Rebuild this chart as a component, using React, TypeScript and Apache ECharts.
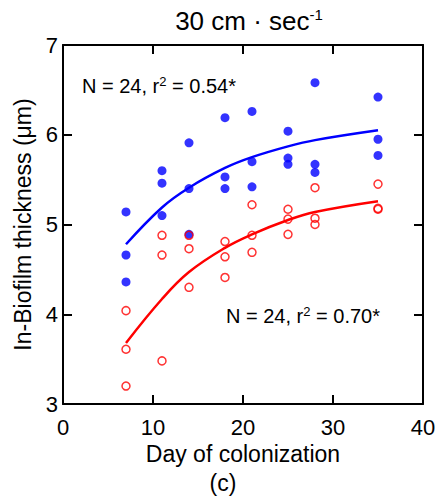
import React, { useEffect, useRef } from "react";
import * as echarts from "echarts";

const FONT = '"Liberation Sans", Arial, Helvetica, sans-serif';

// Sampling days (day of colonization)
const days = [7, 11, 14, 18, 21, 25, 28, 35];

// Replicate measurements per day, two groups
const blueValues = [
  [5.14, 4.66, 4.36],
  [5.6, 5.46, 5.1],
  [5.91, 5.4, 4.89],
  [6.19, 5.53, 5.4],
  [6.26, 5.7, 5.42],
  [6.04, 5.74, 5.67],
  [6.58, 5.67, 5.58],
  [6.42, 5.95, 5.77],
];
const redValues = [
  [4.04, 3.61, 3.2],
  [4.88, 4.66, 3.48],
  [4.88, 4.73, 4.3],
  [4.81, 4.64, 4.41],
  [5.22, 4.88, 4.69],
  [5.17, 5.06, 4.89],
  [5.41, 5.07, 5.0],
  [5.45, 5.18, 5.17],
];

// Fitted growth curves evaluated at the sampling days
const blueFit = [4.78, 5.19, 5.41, 5.63, 5.75, 5.87, 5.94, 6.05];
const redFit = [3.68, 4.17, 4.47, 4.74, 4.89, 5.05, 5.14, 5.26];

const xTicks = { min: 0, max: 40, interval: 10 };
const yTicks = { min: 3, max: 7, interval: 1 };

const BLUE = "#0000ff";
const RED = "#ff0000";

const toPoints = (vals: number[][]) =>
  days.flatMap((d, i) => vals[i].map((v) => [d, v]));
const toLine = (vals: number[]) => days.map((d, i) => [d, vals[i]]);

const axisCommon = {
  type: "value" as const,
  axisLine: { show: true, onZero: false, lineStyle: { color: "#000", width: 2 } },
  axisTick: { show: true, inside: true, length: 9, lineStyle: { color: "#000", width: 2 } },
  splitLine: { show: false },
};

export default function App() {
  const ref = useRef<HTMLDivElement>(null);

  useEffect(() => {
    if (!ref.current) return;
    const chart = echarts.init(ref.current, undefined, { renderer: "svg" });
    chart.setOption({
      animation: false,
      backgroundColor: "#fff",
      grid: { left: 63, right: 16, top: 45, bottom: 96 },
      xAxis: [
        {
          ...axisCommon,
          ...xTicks,
          position: "bottom",
          name: "Day of colonization",
          nameLocation: "middle",
          nameGap: 37,
          nameTextStyle: { fontSize: 23, color: "#000", fontFamily: FONT },
          axisLabel: { fontSize: 22, color: "#000", margin: 12, fontFamily: FONT },
        },
        {
          ...axisCommon,
          ...xTicks,
          position: "top",
          axisLabel: { show: false },
        },
      ],
      yAxis: [
        {
          ...axisCommon,
          ...yTicks,
          position: "left",
          name: "In-Biofilm thickness (μm)",
          nameLocation: "middle",
          nameGap: 20,
          nameTextStyle: { fontSize: 23, color: "#000", fontFamily: FONT },
          axisLabel: {
            fontSize: 22,
            color: "#000",
            margin: 5,
            fontFamily: FONT,
            padding: [6, 0, 0, 0],
          },
        },
        {
          ...axisCommon,
          ...yTicks,
          position: "right",
          axisLabel: { show: false },
        },
      ],
      series: [
        {
          type: "line",
          data: toLine(blueFit),
          smooth: 0.4,
          showSymbol: false,
          symbol: "none",
          lineStyle: { color: BLUE, width: 2.5 },
          z: 2,
        },
        {
          type: "scatter",
          data: toPoints(blueValues),
          symbol: "circle",
          symbolSize: 9,
          itemStyle: { color: BLUE },
          z: 3,
        },
        {
          type: "line",
          data: toLine(redFit),
          smooth: 0.4,
          showSymbol: false,
          symbol: "none",
          lineStyle: { color: RED, width: 2.5 },
          z: 4,
        },
        {
          type: "scatter",
          data: toPoints(redValues),
          symbol: "circle",
          symbolSize: 8,
          itemStyle: { color: "transparent", borderColor: RED, borderWidth: 1.5 },
          z: 5,
        },
      ],
      graphic: [
        {
          type: "text",
          x: 249,
          y: 21,
          style: {
            text: "{a|30 cm · sec}{b|-1}",
            align: "center",
            verticalAlign: "middle",
            rich: {
              a: { fontSize: 26, fontFamily: FONT, fill: "#000" },
              b: { fontSize: 15, fontFamily: FONT, fill: "#000", padding: [0, 0, 14, 0] },
            },
          },
        },
        {
          type: "text",
          x: 82,
          y: 86,
          style: {
            text: "{a|N = 24, r}{b|2}{a| = 0.54*}",
            align: "left",
            verticalAlign: "middle",
            rich: {
              a: { fontSize: 20, fontFamily: FONT, fill: "#000" },
              b: { fontSize: 13, fontFamily: FONT, fill: "#000", padding: [0, 0, 10, 0] },
            },
          },
        },
        {
          type: "text",
          x: 226,
          y: 316,
          style: {
            text: "{a|N = 24, r}{b|2}{a| = 0.70*}",
            align: "left",
            verticalAlign: "middle",
            rich: {
              a: { fontSize: 20, fontFamily: FONT, fill: "#000" },
              b: { fontSize: 13, fontFamily: FONT, fill: "#000", padding: [0, 0, 10, 0] },
            },
          },
        },
        {
          type: "text",
          x: 223,
          y: 483,
          style: {
            text: "(c)",
            align: "center",
            verticalAlign: "middle",
            fontSize: 23,
            fontFamily: FONT,
            fill: "#000",
          },
        },
      ],
    });
    return () => chart.dispose();
  }, []);

  return (
    <div
      ref={ref}
      style={{ position: "absolute", left: 0, top: 0, width: 439, height: 500 }}
    />
  );
}
